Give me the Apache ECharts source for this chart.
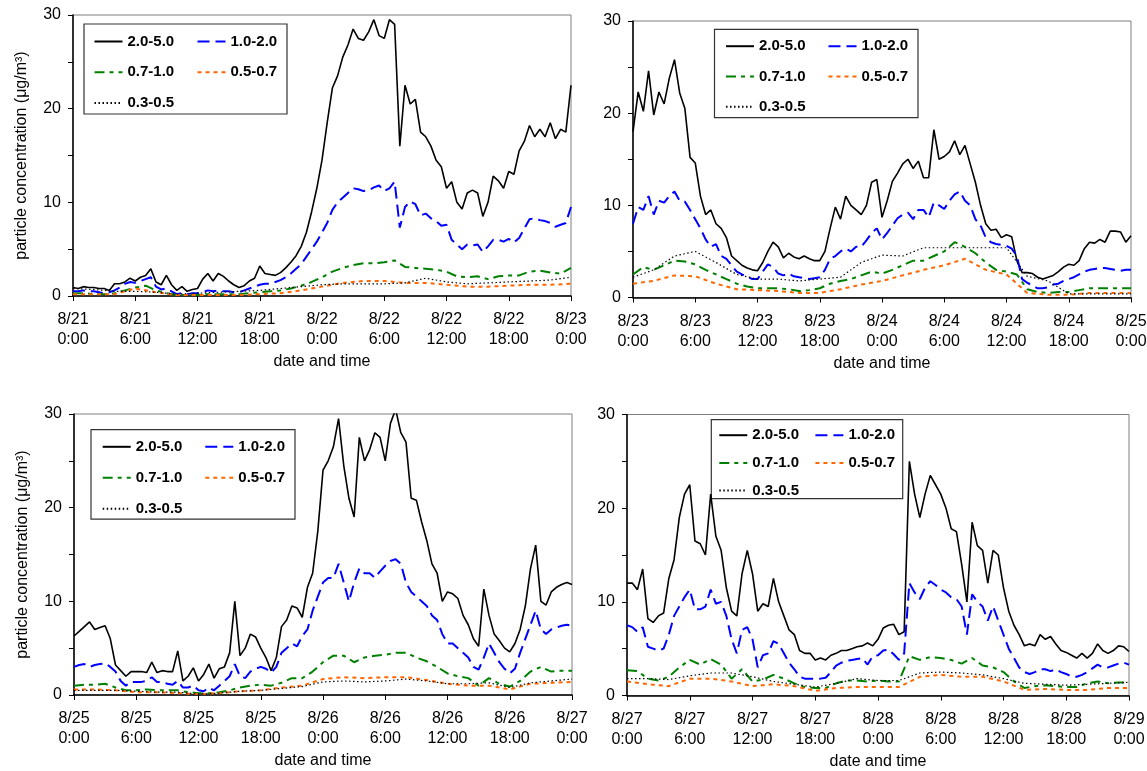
<!DOCTYPE html>
<html>
<head>
<meta charset="utf-8">
<title>particle concentration</title>
<script src="https://cdn.jsdelivr.net/npm/echarts@6/dist/echarts.min.js"></script>
<style>
  html, body { margin: 0; padding: 0; background: #fff; }
  #chart { width: 1147px; height: 771px; }
</style>
</head>
<body>
<div id="chart"></div>
<script>
// size bins, um
const bins = ['2.0-5.0', '1.0-2.0', '0.7-1.0', '0.5-0.7', '0.3-0.5'];
// record step of each bin, hours
const steps = [0.5, 0.5, 1, 2, 2];

const ticks1 = ['8/21\n0:00', '8/21\n6:00', '8/21\n12:00', '8/21\n18:00', '8/22\n0:00', '8/22\n6:00', '8/22\n12:00', '8/22\n18:00', '8/23\n0:00'];
const ticks2 = ['8/23\n0:00', '8/23\n6:00', '8/23\n12:00', '8/23\n18:00', '8/24\n0:00', '8/24\n6:00', '8/24\n12:00', '8/24\n18:00', '8/25\n0:00'];
const ticks3 = ['8/25\n0:00', '8/25\n6:00', '8/25\n12:00', '8/25\n18:00', '8/26\n0:00', '8/26\n6:00', '8/26\n12:00', '8/26\n18:00', '8/27\n0:00'];
const ticks4 = ['8/27\n0:00', '8/27\n6:00', '8/27\n12:00', '8/27\n18:00', '8/28\n0:00', '8/28\n6:00', '8/28\n12:00', '8/28\n18:00', '8/29\n0:00'];

// ---- 8/21 - 8/23 ----
const p1_20_50 = [0.9, 0.8, 1.0, 0.9, 0.9, 0.8, 0.8, 0.6, 1.3, 1.3,
  1.5, 1.9, 1.6, 2.0, 2.2, 2.9, 1.5, 1.2, 2.2, 1.2,
  0.6, 1.0, 0.5, 0.7, 0.8, 1.8, 2.4, 1.6, 2.4, 2.1,
  1.6, 1.2, 0.9, 1.1, 1.6, 1.9, 3.2, 2.4, 2.3, 2.2,
  2.5, 3.0, 3.6, 4.3, 5.3, 6.8, 9.0, 11.5, 14.5, 18.5,
  22.2, 23.5, 25.5, 26.8, 28.5, 27.5, 27.3, 28.2, 29.5, 27.8,
  27.5, 29.5, 29.0, 16.0, 22.5, 20.5, 21.0, 17.5, 17.0, 16.0,
  14.5, 13.8, 11.5, 12.2, 10.0, 9.3, 11.0, 11.3, 11.0, 8.5,
  10.0, 12.8, 12.3, 11.5, 13.3, 13.0, 15.5, 16.5, 18.2, 17.0,
  17.8, 17.0, 18.5, 16.8, 17.8, 17.5, 22.5];
const p1_10_20 = [0.5, 0.5, 0.6, 0.5, 0.5, 0.4, 0.3, 0.4, 0.6, 0.9,
  1.3, 1.5, 1.4, 1.6, 1.8, 2.0, 1.0, 0.7, 0.8, 0.5,
  0.2, 0.3, 0.2, 0.3, 0.3, 0.4, 0.6, 0.5, 0.6, 0.5,
  0.5, 0.4, 0.4, 0.6, 0.8, 1.0, 1.2, 1.3, 1.3, 1.5,
  1.7, 2.0, 2.4, 2.9, 3.4, 4.2, 5.0, 5.8, 6.8, 7.8,
  9.2, 10.0, 10.5, 11.0, 11.5, 11.4, 11.2, 11.3, 11.6, 11.8,
  11.2, 11.5, 12.2, 7.3, 9.5, 10.1, 9.8, 8.6, 8.8, 8.3,
  8.0, 7.5, 7.6, 6.0, 5.5, 5.0, 5.5, 5.4, 5.5, 4.7,
  5.3, 6.0, 6.0, 5.8, 6.1, 5.7, 6.2, 7.2, 8.2, 8.3,
  8.1, 8.0, 7.8, 7.4, 7.6, 7.8, 9.5];
const p1_07_10 = [0.3, 0.3, 0.2, 0.2, 0.3, 0.6, 0.9, 1.1, 0.6, 0.3,
  0.1, 0.1, 0.1, 0.2, 0.2, 0.2, 0.2, 0.3, 0.4, 0.5,
  0.6, 0.8, 1.1, 1.5, 2.0, 2.6, 3.0, 3.3, 3.5, 3.5,
  3.6, 3.8, 3.1, 3.0, 2.9, 2.8, 2.6, 2.1, 2.0, 2.1,
  1.8, 2.1, 2.2, 2.2, 2.6, 2.7, 2.5, 2.4, 3.0];
const p1_05_07 = [0.2, 0.2, 0.2, 0.8, 0.4, 0.1, 0.1, 0.1, 0.1, 0.2, 0.3, 0.6, 1.0,
  1.4, 1.6, 1.6, 1.4, 1.4, 1.2, 1.0, 1.0, 1.1, 1.2, 1.2, 1.3];
const p1_03_05 = [0.8, 0.7, 0.5, 0.5, 0.4, 0.2, 0.3, 0.4, 0.5, 0.6, 0.8, 1.0, 1.2,
  1.3, 1.3, 1.3, 1.4, 1.9, 1.5, 1.3, 1.4, 1.5, 1.6, 1.7, 2.0];

// ---- 8/23 - 8/25 ----
const p2_20_50 = [18.0, 22.3, 20.2, 24.6, 19.8, 22.3, 21.0, 23.8, 25.8, 22.2,
  20.5, 15.2, 14.6, 11.0, 9.0, 9.5, 8.0, 7.5, 6.5, 4.5,
  4.0, 3.5, 3.2, 3.0, 2.9, 3.8, 5.0, 6.0, 5.5, 4.3,
  4.8, 4.4, 4.2, 4.5, 4.2, 4.0, 4.0, 5.0, 7.5, 9.8,
  8.5, 11.0, 10.0, 9.5, 9.0, 10.0, 12.5, 12.8, 8.7, 10.5,
  12.6, 13.5, 14.5, 15.0, 14.0, 14.8, 13.0, 13.0, 18.2, 15.0,
  15.3, 15.8, 17.0, 15.5, 16.5, 14.5, 12.5, 10.0, 8.0, 7.3,
  7.4, 6.5, 6.8, 6.6, 4.0, 2.7, 2.7, 2.6, 2.2, 2.0,
  2.2, 2.4, 2.8, 3.3, 3.6, 3.5, 4.0, 5.3, 6.0, 5.9,
  6.3, 6.0, 7.2, 7.2, 7.1, 6.0, 6.7];
const p2_10_20 = [8.0, 9.8, 9.5, 11.0, 9.0, 10.5, 10.3, 11.0, 11.5, 10.5,
  10.4, 9.5, 8.5, 7.5, 6.3, 5.5, 5.8, 4.5, 4.2, 3.5,
  2.8, 2.5, 2.3, 2.0, 2.0, 2.8, 3.6, 3.3, 2.6, 2.4,
  2.6, 2.3, 2.2, 2.1, 2.0, 2.1, 2.2, 3.0, 4.2, 4.5,
  5.0, 5.3, 5.0, 5.5, 5.5, 6.2, 7.0, 7.5, 6.3, 7.0,
  7.8, 8.6, 9.0, 9.2, 8.5, 9.5, 9.5, 8.7, 10.3, 10.0,
  9.6, 10.5, 11.2, 11.5, 10.5, 10.0, 8.5, 7.8, 6.5, 6.0,
  5.8, 5.7, 5.6, 5.3, 4.5, 2.0, 1.6, 1.3, 1.0, 1.0,
  1.1, 1.4, 1.5, 1.8, 2.0, 2.2, 2.5, 2.8, 3.0, 3.1,
  3.2, 3.2, 3.1, 3.0, 2.9, 3.0, 3.0];
const p2_07_10 = [2.5, 3.3, 3.0, 3.5, 4.0, 3.9, 3.6, 3.0, 2.5, 2.0,
  1.5, 1.2, 1.0, 1.0, 1.0, 0.9, 0.7, 0.8, 1.0, 1.5,
  1.8, 2.0, 2.4, 2.8, 2.6, 3.0, 3.5, 4.0, 4.0, 4.5,
  5.0, 6.0, 5.5, 4.8, 3.8, 3.0, 2.8, 2.5, 0.9, 0.6,
  0.5, 0.6, 0.6, 0.8, 1.0, 1.0, 1.0, 1.0, 1.0];
const p2_05_07 = [1.5, 1.8, 2.4, 2.3, 1.5, 0.9, 0.8, 0.7, 0.5, 0.5, 0.9, 1.4, 1.8,
  2.4, 3.0, 3.5, 4.2, 3.0, 2.5, 0.5, 0.3, 0.3, 0.5, 0.5, 0.5];
const p2_03_05 = [2.2, 3.0, 4.5, 5.0, 3.8, 2.5, 2.0, 2.0, 1.8, 2.0, 2.2, 3.8, 4.6,
  4.5, 5.4, 5.4, 5.4, 5.4, 5.4, 2.3, 1.8, 0.4, 0.4, 0.4, 0.4];

// ---- 8/25 - 8/27 ----
const p3_20_50 = [6.3, 6.8, 7.3, 7.8, 7.0, 7.2, 7.4, 6.0, 3.2, 2.6,
  2.0, 2.5, 2.5, 2.5, 2.4, 3.5, 2.4, 2.6, 2.5, 2.5,
  4.7, 1.5, 2.0, 2.9, 1.5, 2.2, 3.3, 1.8, 2.8, 3.0,
  4.5, 10.0, 4.2, 5.0, 6.5, 6.2, 5.0, 4.0, 2.6, 4.0,
  7.3, 8.0, 9.5, 9.3, 8.3, 11.5, 13.0, 17.5, 24.0, 25.0,
  26.5, 29.5, 24.5, 21.0, 19.0, 27.5, 25.0, 26.2, 28.0, 27.5,
  25.0, 29.0, 30.5, 28.0, 27.0, 21.0, 20.8, 18.5, 16.5, 14.0,
  13.0, 10.0, 11.0, 10.8, 10.3, 8.5, 7.5, 6.0, 5.2, 11.3,
  8.5, 6.5, 5.8, 5.0, 4.6, 5.5, 7.0, 9.5, 13.5, 16.0,
  10.0, 9.6, 11.0, 11.5, 11.8, 12.0, 11.8];
const p3_10_20 = [3.0, 3.2, 3.3, 3.0, 3.2, 3.3, 3.4, 3.0, 2.5, 1.5,
  1.0, 1.4, 1.4, 1.4, 1.5, 1.9, 1.4, 1.4, 1.2, 1.1,
  1.5, 0.8, 0.8, 1.0, 0.5, 0.4, 0.8, 0.5, 1.0, 1.5,
  2.0, 3.3, 2.0, 1.8, 2.5, 2.8, 3.0, 2.8, 2.4, 3.0,
  4.5, 5.0, 5.5, 5.2, 6.3, 7.0, 9.0, 10.5, 12.0, 12.5,
  12.5, 14.0, 12.0, 10.0, 12.0, 13.5, 13.0, 13.0, 12.5, 13.2,
  13.8, 14.3, 14.5, 14.0, 12.0, 11.0, 10.5, 10.0, 9.5, 8.5,
  8.0, 6.5, 5.5, 5.5, 5.0, 4.5, 4.0, 3.0, 2.7, 4.0,
  5.5, 4.5, 3.5, 2.8, 2.3, 2.8, 4.5, 6.0, 7.5, 9.0,
  7.0, 6.5, 7.0, 7.2, 7.4, 7.5, 7.4];
const p3_07_10 = [1.0, 1.1, 1.1, 1.2, 0.8, 0.5, 0.5, 0.6, 0.5, 0.5,
  0.5, 0.3, 0.2, 0.2, 0.3, 0.5, 0.8, 1.0, 1.1, 1.0,
  1.3, 1.8, 1.8, 2.5, 3.5, 4.2, 4.2, 3.5, 4.0, 4.2,
  4.3, 4.5, 4.5, 4.0, 3.6, 3.0, 2.3, 2.0, 1.8, 1.0,
  1.8, 1.2, 0.9, 1.5, 2.5, 3.0, 2.5, 2.6, 2.6];
const p3_05_07 = [0.6, 0.6, 0.5, 0.3, 0.3, 0.2, 0.1, 0.2, 0.4, 0.5, 0.8, 1.0, 1.7,
  1.9, 1.8, 1.9, 1.9, 1.6, 1.2, 1.0, 1.0, 0.6, 1.2, 1.3, 1.4];
const p3_03_05 = [0.5, 0.5, 0.5, 0.4, 0.3, 0.3, 0.1, 0.2, 0.4, 0.5, 0.7, 0.9, 1.4,
  1.5, 1.4, 1.5, 1.7, 1.5, 1.2, 1.2, 1.3, 0.8, 1.3, 1.5, 1.7];

// ---- 8/27 - 8/29 ----
const p4_20_50 = [12.0, 12.0, 11.3, 13.5, 8.2, 7.8, 8.5, 8.8, 12.5, 14.5,
  19.0, 21.5, 22.5, 16.5, 16.2, 15.0, 21.5, 17.0, 15.5, 11.5,
  9.0, 8.5, 13.0, 15.5, 13.0, 9.0, 9.8, 9.5, 12.5, 10.0,
  8.5, 7.0, 6.5, 4.8, 4.5, 4.5, 3.8, 4.0, 3.8, 4.3,
  4.5, 4.8, 4.8, 5.0, 5.2, 5.3, 5.6, 5.3, 6.0, 7.2,
  7.5, 7.6, 6.5, 6.8, 25.0, 21.5, 19.0, 21.5, 23.5, 22.5,
  21.5, 20.0, 17.8, 17.5, 14.0, 10.0, 18.5, 16.0, 15.5, 12.0,
  15.5, 15.0, 11.5, 9.0, 7.5, 6.5, 5.3, 5.5, 5.3, 6.5,
  6.0, 6.3, 5.5, 4.8, 4.6, 4.3, 4.0, 4.5, 4.0, 4.5,
  5.5, 4.8, 4.5, 4.8, 5.3, 5.2, 4.7];
const p4_10_20 = [7.5, 7.3, 6.8, 7.3, 5.2, 5.0, 4.8, 5.0, 6.5, 8.5,
  9.5, 10.5, 11.3, 9.2, 9.2, 9.5, 11.3, 9.8, 10.0, 8.5,
  6.0, 4.5, 7.0, 7.3, 6.0, 3.0, 4.3, 4.5, 5.8, 5.5,
  4.5, 3.5, 2.8, 2.0, 1.8, 1.8, 1.8, 1.8, 1.9, 2.5,
  3.2, 3.5, 3.7, 3.8, 3.9, 4.0, 3.3, 4.2, 4.3, 4.8,
  4.9, 4.4, 3.8, 4.5, 12.0, 11.0, 10.3, 11.5, 12.2, 11.8,
  11.3, 11.0, 10.5, 10.3, 9.5, 6.5, 10.8, 10.0, 9.5, 8.0,
  9.5, 8.0, 6.5, 5.0, 4.0, 3.0, 2.5, 2.3, 2.5, 2.8,
  2.8, 2.6, 2.8, 2.5, 2.3, 2.0, 2.0, 2.2, 2.5, 2.9,
  3.3, 3.0, 3.0, 3.2, 3.4, 3.5, 3.3];
const p4_07_10 = [2.7, 2.6, 1.8, 1.6, 2.0, 3.0, 3.8, 3.3, 3.9, 3.3,
  1.8, 2.8, 1.5, 1.7, 2.2, 1.8, 1.3, 0.9, 0.8, 0.8,
  1.3, 1.6, 1.6, 1.5, 1.6, 1.5, 1.5, 4.2, 3.8, 4.1,
  4.0, 3.8, 3.4, 4.0, 3.2, 3.0, 2.5, 1.5, 0.8, 1.0,
  1.1, 1.0, 0.9, 0.9, 1.3, 1.5, 1.3, 1.4, 1.4];
const p4_05_07 = [1.5, 1.2, 1.0, 1.8, 1.8, 1.5, 1.0, 1.2, 1.0, 0.5, 0.8, 0.9, 0.9,
  0.9, 2.0, 2.2, 2.0, 2.0, 1.5, 0.6, 0.7, 0.6, 0.6, 0.8, 0.8];
const p4_03_05 = [1.8, 1.8, 1.7, 2.1, 2.4, 2.4, 2.0, 1.5, 1.2, 0.9, 1.3, 1.8, 1.6,
  1.6, 2.4, 2.5, 2.4, 2.2, 1.8, 1.3, 1.2, 1.1, 1.2, 1.3, 1.4];

const FONT = "'Liberation Sans', Arial, Helvetica, sans-serif";

// line look of each bin (same order as bins)
const lineStyles = [
  { color: '#000000', width: 1.6, type: 'solid' },
  { color: '#0000ff', width: 2, type: [12, 6] },
  { color: '#008000', width: 2, type: [10, 5, 4, 5] },
  { color: '#ff6600', width: 2, type: [4, 4] },
  { color: '#000000', width: 1.2, type: [1.5, 2.5] }
];

// panel boxes, legend spots
const panels = [
  { ticks: ticks1, data: [p1_20_50, p1_10_20, p1_07_10, p1_05_07, p1_03_05],
    grid: { left: 73, top: 15, width: 498, height: 281 }, yName: true,
    legCols: [93.5, 196.5], legTop: 34, legGap: 15.8, box: [84, 24, 203, 90] },
  { ticks: ticks2, data: [p2_20_50, p2_10_20, p2_07_10, p2_05_07, p2_03_05],
    grid: { left: 633, top: 21, width: 498, height: 276.5 }, yName: false,
    legCols: [725, 827.5], legTop: 38.7, legGap: 15.3, box: [714.5, 29.3, 203.5, 88.3] },
  { ticks: ticks3, data: [p3_20_50, p3_10_20, p3_07_10, p3_05_07, p3_03_05],
    grid: { left: 74, top: 414, width: 498, height: 281 }, yName: true,
    legCols: [101.7, 204.3], legTop: 439.3, legGap: 16, box: [91, 429.7, 204, 89.5] },
  { ticks: ticks4, data: [p4_20_50, p4_10_20, p4_07_10, p4_05_07, p4_03_05],
    grid: { left: 627, top: 414.5, width: 502, height: 281 }, yName: false,
    legCols: [718.3, 814.4], legTop: 427.7, legGap: 12.7, box: [711.3, 419.7, 191.4, 79] }
];

const grids = [], xAxes = [], yAxes = [], series = [], legends = [], boxes = [];

panels.forEach((p, k) => {
  grids.push(Object.assign({
    show: true, borderColor: '#7f7f7f', borderWidth: 1, backgroundColor: 'transparent',
    containLabel: false, outerBoundsMode: 'none'
  }, p.grid));

  xAxes.push({
    type: 'value', gridIndex: k, min: 0, max: 48, interval: 6,
    name: 'date and time', nameLocation: 'middle', nameGap: 58,
    nameTextStyle: { fontSize: 16, color: '#000', fontFamily: FONT },
    axisLine: { show: true, onZero: false, lineStyle: { color: '#000', width: 1.5 } },
    axisTick: { show: true, inside: false, length: 5, lineStyle: { color: '#000', width: 1 } },
    axisLabel: {
      show: true, margin: 14, fontSize: 16, lineHeight: 20, color: '#000', fontFamily: FONT,
      showMinLabel: true, showMaxLabel: true,
      formatter: v => p.ticks[Math.round(v / 6)]
    },
    splitLine: { show: false }
  });

  yAxes.push({
    type: 'value', gridIndex: k, min: 0, max: 30, interval: 5,
    name: p.yName ? 'particle concentration (μg/m³)' : '',
    nameLocation: 'middle', nameGap: 43, nameRotate: 90,
    nameTextStyle: { fontSize: 16, color: '#000', fontFamily: FONT },
    axisLine: { show: true, onZero: false, lineStyle: { color: '#000', width: 1.5 } },
    axisTick: { show: true, inside: false, length: 5, lineStyle: { color: '#000', width: 1 } },
    axisLabel: {
      show: true, margin: 12, fontSize: 16, color: '#000', fontFamily: FONT,
      formatter: v => (v % 10 === 0 ? String(v) : '')
    },
    splitLine: { show: false }
  });

  p.data.forEach((arr, j) => {
    const ls = lineStyles[j];
    series.push({
      name: bins[j], type: 'line', xAxisIndex: k, yAxisIndex: k,
      data: arr.map((v, i) => [i * steps[j], v]),
      symbol: 'none', showSymbol: false, clip: true, silent: true,
      animation: false,
      itemStyle: { color: ls.color },
      lineStyle: { color: ls.color, width: ls.width, type: ls.type },
      emphasis: { disabled: true }
    });
  });

  // two legend columns inside one framed box; line sample only, no marker
  const legBase = {
    orient: 'vertical', padding: 0, itemWidth: 28, itemHeight: 14,
    itemGap: p.legGap, top: p.legTop, selectedMode: false,
    itemStyle: { opacity: 0, borderWidth: 0 },
    textStyle: { fontSize: 15, fontWeight: 'bold', color: '#000', lineHeight: 14, fontFamily: FONT }
  };
  legends.push(Object.assign({}, legBase, { left: p.legCols[0], data: [bins[0], bins[2], bins[4]] }));
  legends.push(Object.assign({}, legBase, { left: p.legCols[1], data: [bins[1], bins[3]] }));

  boxes.push({
    type: 'rect', z: 3,
    shape: { x: p.box[0], y: p.box[1], width: p.box[2], height: p.box[3] },
    style: { fill: 'none', stroke: '#333', lineWidth: 1.2 }
  });
});

const chart = echarts.init(document.getElementById('chart'), null, { renderer: 'canvas' });
chart.setOption({
  animation: false,
  backgroundColor: '#fff',
  textStyle: { fontFamily: FONT },
  grid: grids,
  xAxis: xAxes,
  yAxis: yAxes,
  legend: legends,
  graphic: boxes,
  series: series
});
</script>
</body>
</html>
